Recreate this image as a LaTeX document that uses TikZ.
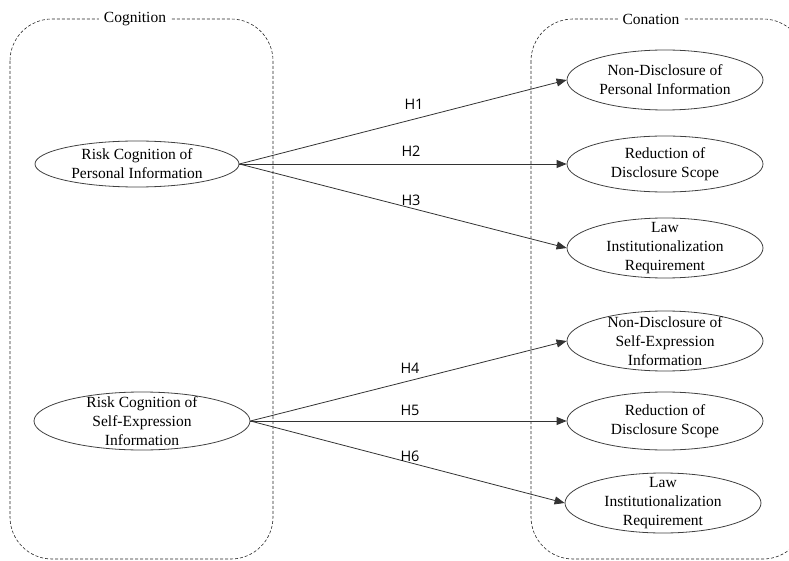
\documentclass[tikz,border=0pt]{standalone}
\usepackage{fontspec}
\setmainfont{Liberation Serif}
\newfontfamily\hfont{Open Sans}
\usetikzlibrary{shapes.geometric,arrows.meta}
\begin{document}
\begin{tikzpicture}[x=1pt,y=-1pt,
  cont/.style={draw=black!85,line width=0.6pt,dash pattern=on 3pt off 2pt,rounded corners=42pt},
  clabel/.style={fill=white,inner xsep=5pt,inner ysep=2pt,font=\fontsize{15.5}{17}\selectfont},
  ell/.style={ellipse,draw=black!75,line width=0.8pt,minimum height=60pt,minimum width=196pt,inner sep=-12pt,align=center,font=\fontsize{15.5}{19}\selectfont},
  arr/.style={draw=black!80,line width=0.8pt,-{Triangle[length=10pt,width=8pt]}},
  hlab/.style={font=\hfont\fontsize{14.5}{16}\selectfont}]
\useasboundingbox (0,0) rectangle (789,561);
\clip (0,0) rectangle (789,561);
\draw[cont] (10,19) rectangle (273,559);
\draw[cont] (531,19) rectangle (805,559);
\node[clabel] (cog) at (135,19) {Cognition};
\node[clabel] (con) at (651,19) {Conation};

\node[ell,minimum width=204pt,minimum height=46pt] (l1) at (137,164) {Risk Cognition of\\Personal Information};
\node[ell,minimum width=216pt,minimum height=58pt] (l2) at (142,421) {Risk Cognition of\\Self-Expression\\Information};

\node[ell] (r1) at (665,80) {Non-Disclosure of\\Personal Information};
\node[ell,minimum height=56pt] (r2) at (665,164) {Reduction of\\Disclosure Scope};
\node[ell] (r3) at (665,248) {Law\\Institutionalization\\Requirement};
\node[ell] (r4) at (665,341) {Non-Disclosure of\\Self-Expression\\Information};
\node[ell,minimum height=58pt] (r5) at (665,421) {Reduction of\\Disclosure Scope};
\node[ell] (r6) at (663,503) {Law\\Institutionalization\\Requirement};

\coordinate (s1) at (l1.east);
\coordinate (s2) at (l2.east);
\draw[arr] (s1) -- (r1.west);
\draw[arr] (s1) -- (r2.west);
\draw[arr] (s1) -- (r3.west);
\draw[arr] (s2) -- (r4.west);
\draw[arr] (s2) -- (r5.west);
\draw[arr] (s2) -- (r6.west);

\node[hlab] (h1) at (414,104) {H1};
\node[hlab] (h2) at (411,151) {H2};
\node[hlab] (h3) at (411,200) {H3};
\node[hlab] (h4) at (410,368) {H4};
\node[hlab] (h5) at (410,410) {H5};
\node[hlab] (h6) at (410,456) {H6};
\end{tikzpicture}
\end{document}
